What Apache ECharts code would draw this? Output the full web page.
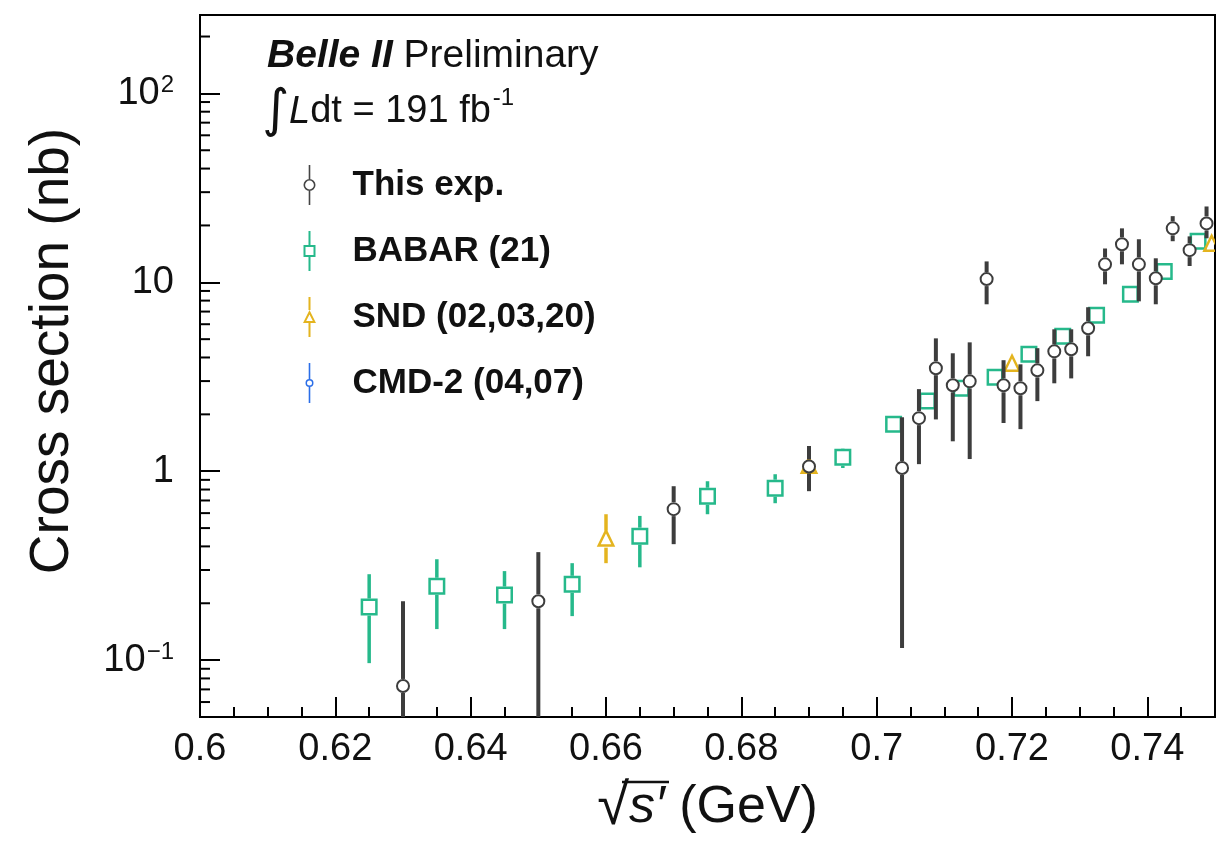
<!DOCTYPE html>
<html><head><meta charset="utf-8">
<script src="https://cdn.jsdelivr.net/npm/echarts@6/dist/echarts.min.js"></script>
<style>html,body{margin:0;padding:0;background:#fff}#c{width:1220px;height:850px}</style>
</head><body><div id="c"></div>
<script>
// ---------- axis ranges / ticks ----------
const X_MIN = 0.6, X_MAX = 0.75, X_MAJOR = 0.02, X_MINOR = 0.005;
const Y_MIN = 0.05, Y_MAX = 260;
const yMinorTicks = [0.06,0.07,0.08,0.09,0.2,0.3,0.4,0.5,0.6,0.7,0.8,0.9,2,3,4,5,6,7,8,9,20,30,40,50,60,70,80,90,200];
const yTickLabels = {0.1: '{b|10}{s|\u22121}', 1: '{b|1}', 10: '{b|10}', 100: '{b|10}{s|2}'};

// ---------- This experiment ----------
const thisX  = [0.63, 0.65, 0.67, 0.69, 0.70375, 0.70625, 0.70875, 0.71125, 0.71375, 0.71625, 0.71875, 0.72125, 0.72375, 0.72625, 0.72875, 0.73125, 0.73375, 0.73625, 0.73875, 0.74125, 0.74375, 0.74625, 0.74875];
const thisY  = [0.073, 0.205, 0.63, 1.06, 1.04, 1.91, 3.51, 2.85, 2.99, 10.4, 2.85, 2.75, 3.42, 4.31, 4.42, 5.71, 12.45, 15.9, 12.45, 10.5, 19.3, 14.8, 20.5];
const thisHi = [0.205, 0.373, 0.833, 1.36, 1.93, 2.72, 5.05, 4.21, 4.81, 12.9, 3.87, 3.68, 4.48, 5.64, 5.64, 7.38, 15.1, 19.3, 16.9, 13.4, 22.4, 17.5, 25.2];
const thisLo = [0.01, 0.01, 0.411, 0.784, 0.116, 1.09, 1.88, 1.44, 1.16, 7.65, 1.80, 1.67, 2.35, 2.92, 3.10, 4.06, 9.76, 12.45, 7.93, 7.65, 16.5, 12.2, 17.1];

// ---------- BABAR (21) ----------
const babarX  = [0.625, 0.635, 0.645, 0.655, 0.665, 0.675, 0.685, 0.695, 0.7025, 0.7075, 0.7125, 0.7175, 0.7225, 0.7275, 0.7325, 0.7375, 0.7425, 0.7475];
const babarY  = [0.191, 0.246, 0.221, 0.252, 0.453, 0.737, 0.813, 1.186, 1.77, 2.35, 2.75, 3.14, 4.16, 5.18, 6.69, 8.64, 11.4, 16.5];
const babarHi = [0.285, 0.342, 0.296, 0.326, 0.58, 0.885, 0.964, 1.32, 1.86, 2.45, 2.87, 3.28, 4.34, 5.40, 6.98, 9.0, 11.9, 17.2];
const babarLo = [0.0964, 0.146, 0.146, 0.171, 0.31, 0.592, 0.677, 1.04, 1.68, 2.25, 2.63, 3.0, 3.98, 4.96, 6.40, 8.28, 10.9, 15.8];

// ---------- SND (02,03,20) ----------
const sndX  = [0.66, 0.69, 0.72, 0.7495];
const sndY  = [0.437, 1.06, 3.68, 15.9];
const sndHi = [0.592, 1.2, 3.95, 16.9];
const sndLo = [0.326, 0.94, 3.4, 14.9];

// ---------- CMD-2 (04,07) (no points inside the displayed range) ----------
const cmdX = [], cmdY = [], cmdHi = [], cmdLo = [];

const FONT = '"Liberation Sans", Arial, Helvetica, sans-serif';
const C_THIS = '#3d3d3d', C_BABAR = '#26b98b', C_SND = '#e4b41f', C_CMD = '#2b6ee8';

function rows(xs, ys, lo, hi) { return xs.map((x, i) => [x, ys[i], lo[i], hi[i]]); }

function makeRender(shape, size, lw, barW, color, fill) {
  return function (params, api) {
    const x = api.value(0), y = api.value(1), lo = api.value(2), hi = api.value(3);
    const c = api.coord([x, y]), pl = api.coord([x, lo]), ph = api.coord([x, hi]);
    const r = size / 2;
    const ch = [];
    const bs = {stroke: color, lineWidth: barW};
    if (ph[1] < c[1] - r) ch.push({type: 'line', shape: {x1: c[0], y1: ph[1], x2: c[0], y2: c[1] - r}, style: bs});
    if (pl[1] > c[1] + r) ch.push({type: 'line', shape: {x1: c[0], y1: c[1] + r, x2: c[0], y2: pl[1]}, style: bs});
    const ms = {stroke: color, lineWidth: lw, fill: fill};
    if (shape === 'circle') ch.push({type: 'circle', shape: {cx: c[0], cy: c[1], r: r - lw / 2}, style: ms});
    else if (shape === 'square') ch.push({type: 'rect', shape: {x: c[0] - r + lw / 2, y: c[1] - r + lw / 2, width: size - lw, height: size - lw}, style: ms});
    else if (shape === 'triangle') ch.push({type: 'polygon', shape: {points: [[c[0], c[1] - r], [c[0] + r - lw / 2, c[1] + r * 0.75], [c[0] - r + lw / 2, c[1] + r * 0.75]]}, style: ms});
    return {type: 'group', children: ch};
  };
}

function expSeries(name, data, shape, size, lw, barW, color, fill) {
  return {
    type: 'custom', name: name, data: data, clip: true,
    encode: {x: 0, y: 1},
    itemStyle: {color: color},
    renderItem: makeRender(shape, size, lw, barW, color, fill)
  };
}

const ICON_THIS  = 'path://M6.2,0L7.8,0L7.8,14L6.2,14ZM6.2,26L7.8,26L7.8,40L6.2,40ZM7,14A6,6 0 1 1 7,26A6,6 0 1 1 7,14ZM7,15.6A4.4,4.4 0 1 0 7,24.4A4.4,4.4 0 1 0 7,15.6Z';
const ICON_BABAR = 'path://M6,0L8,0L8,14L6,14ZM6,26L8,26L8,40L6,40ZM1,14L13,14L13,26L1,26ZM3,16L3,24L11,24L11,16Z';
const ICON_SND   = 'path://M6,0L8,0L8,13L6,13ZM6,26L8,26L8,40L6,40ZM7,13L13.5,26L0.5,26ZM7,17.5L3.7,24L10.3,24Z';
const ICON_CMD   = 'path://M6.2,0L7.8,0L7.8,16L6.2,16ZM6.2,24L7.8,24L7.8,40L6.2,40ZM7,16A4,4 0 1 1 7,24A4,4 0 1 1 7,16ZM7,17.5A2.5,2.5 0 1 0 7,22.5A2.5,2.5 0 1 0 7,17.5Z';

const chart = echarts.init(document.getElementById('c'), null, {renderer: 'canvas'});
const option = {
  backgroundColor: '#fff',
  animation: false,
  textStyle: {fontFamily: FONT},
  grid: {left: 200, right: 5, top: 15, bottom: 133, show: true, borderColor: '#000', borderWidth: 2, backgroundColor: 'transparent'},
  xAxis: [
    {
      type: 'value', min: X_MIN, max: X_MAX, interval: X_MAJOR,
      axisLine: {show: true, lineStyle: {color: '#000', width: 2}},
      axisTick: {show: true, inside: true, length: 20, lineStyle: {color: '#000', width: 2}},
      splitLine: {show: false},
      axisLabel: {show: true, margin: 14, fontSize: 38, color: '#111', fontFamily: FONT, showMaxLabel: false,
        formatter: v => String(Math.round(v * 100) / 100)},
      name: '{r|\u221A}{i|s\u2032}{n| (GeV)}', nameLocation: 'middle', nameGap: 62,
      nameTextStyle: {fontFamily: FONT, color: '#111', rich: {
        r: {fontSize: 58, fontFamily: FONT, color: '#111'},
        i: {fontSize: 52, fontStyle: 'italic', fontFamily: FONT, color: '#111'},
        n: {fontSize: 52, fontFamily: FONT, color: '#111'}}}
    },
    {
      type: 'value', min: X_MIN, max: X_MAX, interval: X_MINOR, position: 'bottom',
      axisLine: {show: false},
      axisTick: {show: true, inside: true, length: 10, lineStyle: {color: '#000', width: 2}},
      axisLabel: {show: false}, splitLine: {show: false}
    }
  ],
  yAxis: {
    type: 'log', logBase: 10, min: Y_MIN, max: Y_MAX,
    axisLine: {show: true, lineStyle: {color: '#000', width: 2}},
    axisTick: {show: true, inside: true, length: 20, lineStyle: {color: '#000', width: 2}},
    splitLine: {show: false}, minorTick: {show: false},
    axisLabel: {show: true, margin: 26, showMinLabel: false, showMaxLabel: false, color: '#111',
      formatter: v => { const k = Object.keys(yTickLabels).find(t => Math.abs(Math.log10(+t) - Math.log10(v)) < 1e-6); return k ? yTickLabels[k] : ''; },
      rich: {b: {fontSize: 38, fontFamily: FONT, color: '#111', lineHeight: 40},
             s: {fontSize: 24, fontFamily: FONT, color: '#111', verticalAlign: 'top', lineHeight: 40, padding: [0, 0, 14, 1]}}},
    name: 'Cross section (nb)', nameLocation: 'middle', nameGap: 120, nameRotate: 90,
    nameTextStyle: {fontSize: 55, fontFamily: FONT, color: '#111', padding: [0, 0, 0, 30]}
  },
  legend: {
    orient: 'vertical', left: 303, top: 165, itemWidth: 14, itemHeight: 40, itemGap: 26,
    selectedMode: false, padding: 0,
    itemStyle: {borderWidth: 0},
    formatter: n => '{t|' + n + '}',
    textStyle: {fontSize: 35, fontWeight: 'bold', fontFamily: FONT, color: '#111',
      rich: {t: {fontSize: 35, fontWeight: 'bold', fontFamily: FONT, color: '#111', padding: [0, 0, 0, 31]}}},
    data: [
      {name: 'This exp.', icon: ICON_THIS, itemStyle: {color: '#444'}},
      {name: 'BABAR (21)', icon: ICON_BABAR, itemStyle: {color: C_BABAR}},
      {name: 'SND (02,03,20)', icon: ICON_SND, itemStyle: {color: C_SND}},
      {name: 'CMD-2 (04,07)', icon: ICON_CMD, itemStyle: {color: C_CMD}}
    ]
  },
  graphic: [
    {type: 'text', left: 267, top: 37, style: {
      text: '{b|Belle II}{n| Preliminary}',
      rich: {b: {fontSize: 39, fontWeight: 'bold', fontStyle: 'italic', fontFamily: FONT, fill: '#111'},
             n: {fontSize: 39, fontFamily: FONT, fill: '#111'}}}},
    {type: 'text', left: 262, top: 86, style: {
      text: '{int|\u222B}{L|L}{n|dt = 191 fb}{s|-1}',
      rich: {int: {fontSize: 52, fontFamily: '"DejaVu Sans", sans-serif', fill: '#111'},
             L: {fontSize: 38, fontStyle: 'italic', fontFamily: FONT, fill: '#111'},
             n: {fontSize: 38, fontFamily: FONT, fill: '#111'},
             s: {fontSize: 24, fontFamily: FONT, fill: '#111', verticalAlign: 'top', padding: [0, 0, 22, 2]}}}},
    {type: 'line', shape: {x1: 622, y1: 782, x2: 669, y2: 782}, style: {stroke: '#111', lineWidth: 2.5}}
  ],
  series: [
    expSeries('BABAR (21)', rows(babarX, babarY, babarLo, babarHi), 'square', 17, 2.5, 3.5, C_BABAR, 'rgba(255,255,255,0)'),
    expSeries('SND (02,03,20)', rows(sndX, sndY, sndLo, sndHi), 'triangle', 17, 2.5, 3.5, C_SND, 'rgba(255,255,255,0)'),
    expSeries('CMD-2 (04,07)', rows(cmdX, cmdY, cmdLo, cmdHi), 'circle', 10, 2, 3, C_CMD, '#fff'),
    expSeries('This exp.', rows(thisX, thisY, thisLo, thisHi), 'circle', 14, 2, 4, C_THIS, '#fff'),
    {
      type: 'custom', name: 'yMinorTicks', silent: true, clip: false,
      data: yMinorTicks.map(v => [X_MIN, v]), encode: {x: 0, y: 1},
      renderItem: (p, api) => {
        const c = api.coord([api.value(0), api.value(1)]);
        return {type: 'line', shape: {x1: c[0], y1: c[1], x2: c[0] + 10, y2: c[1]}, style: {stroke: '#000', lineWidth: 2}};
      }
    }
  ]
};
chart.setOption(option);
</script>
</body></html>
